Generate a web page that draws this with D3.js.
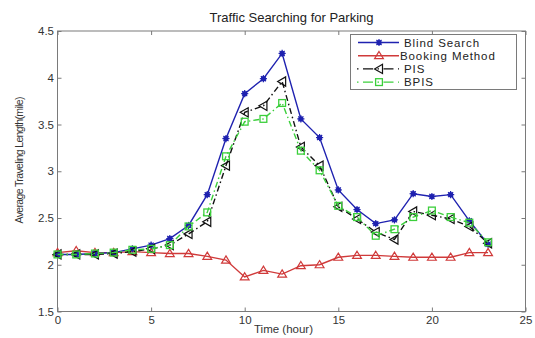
<!DOCTYPE html>
<html>
<head>
<meta charset="utf-8">
<script src="https://cdn.jsdelivr.net/npm/d3@7"></script>
<style>
  html, body { margin: 0; padding: 0; background: #fff; }
  svg { display: block; font-family: "Liberation Sans", Arial, sans-serif; }
</style>
</head>
<body>
<svg id="chart" width="535" height="338"></svg>
<script>
// Hour of day
const hours = d3.range(0, 24);

// Average traveling length (mile) per strategy
const blindSearch   = [2.11, 2.11, 2.12, 2.13, 2.17, 2.21, 2.28, 2.42, 2.75, 3.35, 3.83, 3.99, 4.26, 3.56, 3.36, 2.80, 2.59, 2.44, 2.48, 2.76, 2.73, 2.75, 2.47, 2.22];
const bookingMethod = [2.13, 2.15, 2.13, 2.13, 2.14, 2.13, 2.12, 2.12, 2.09, 2.05, 1.87, 1.94, 1.90, 1.99, 2.00, 2.08, 2.10, 2.10, 2.09, 2.08, 2.08, 2.08, 2.13, 2.13];
const pis           = [2.11, 2.11, 2.11, 2.12, 2.14, 2.17, 2.21, 2.33, 2.46, 3.06, 3.63, 3.70, 3.96, 3.26, 3.06, 2.62, 2.49, 2.35, 2.27, 2.57, 2.53, 2.49, 2.41, 2.23];
const bpis          = [2.11, 2.11, 2.12, 2.13, 2.16, 2.17, 2.21, 2.41, 2.56, 3.16, 3.53, 3.56, 3.73, 3.22, 3.01, 2.63, 2.51, 2.31, 2.38, 2.51, 2.58, 2.51, 2.45, 2.24];

const xTicks = [0, 5, 10, 15, 20, 25];
const yTicks = [1.5, 2, 2.5, 3, 3.5, 4, 4.5];

const title = "Traffic Searching for Parking";
const xLabel = "Time (hour)";
const yLabel = "Average Traveling Length(mile)";

const series = [
  { name: "Blind Search",   values: blindSearch,   color: "#1f22b0", dash: null,        marker: "star" },
  { name: "Booking Method", values: bookingMethod, color: "#d03a3a", dash: null,        marker: "tri" },
  { name: "PIS",            values: pis,           color: "#111111", dash: "6,3,1.5,3", marker: "ltri" },
  { name: "BPIS",           values: bpis,          color: "#3ccf3c", dash: "6,3,1.5,3", marker: "square" }
];

const svg = d3.select("#chart");
const plotLeft = 57.5, plotRight = 525.5, plotTop = 31, plotBottom = 311.5;

const x = d3.scaleLinear().domain([0, 25]).range([plotLeft, plotRight]);
const y = d3.scaleLinear().domain([1.5, 4.5]).range([plotBottom, plotTop]);

const axisColor = "#7a7a7a";
const textColor = "#333";

// Plot frame
svg.append("rect")
  .attr("x", plotLeft).attr("y", plotTop)
  .attr("width", plotRight - plotLeft).attr("height", plotBottom - plotTop)
  .attr("fill", "none").attr("stroke", axisColor).attr("stroke-width", 1);

// Axes with inward ticks
const xAxis = svg.append("g").attr("transform", `translate(0,${plotBottom})`)
  .call(d3.axisBottom(x).tickValues(xTicks).tickFormat(d3.format("d")).tickSizeInner(-4).tickSizeOuter(0).tickPadding(4));
const xAxisTop = svg.append("g").attr("transform", `translate(0,${plotTop})`)
  .call(d3.axisTop(x).tickValues(xTicks).tickFormat("").tickSizeInner(-4).tickSizeOuter(0));
const yAxis = svg.append("g").attr("transform", `translate(${plotLeft},0)`)
  .call(d3.axisLeft(y).tickValues(yTicks).tickFormat(d => d3.format("")(d)).tickSizeInner(-4).tickSizeOuter(0).tickPadding(3.5));
const yAxisRight = svg.append("g").attr("transform", `translate(${plotRight},0)`)
  .call(d3.axisRight(y).tickValues(yTicks).tickFormat("").tickSizeInner(-4).tickSizeOuter(0));

[xAxis, xAxisTop, yAxis, yAxisRight].forEach(g => {
  g.select(".domain").remove();
  g.selectAll("line").attr("stroke", axisColor);
  g.selectAll("text").attr("fill", textColor).style("font-size", "11.5px")
    .style("font-family", "'Liberation Sans', Arial, sans-serif");
});

// Titles
svg.append("text").attr("x", (plotLeft + plotRight) / 2).attr("y", 22)
  .attr("text-anchor", "middle").attr("fill", "#222").style("font-size", "13px").text(title);
svg.append("text").attr("x", (plotLeft + plotRight) / 2 - 8).attr("y", 333)
  .attr("text-anchor", "middle").attr("fill", textColor).style("font-size", "11.5px").text(xLabel);
svg.append("text")
  .attr("transform", `translate(23,160) rotate(-90)`)
  .attr("text-anchor", "middle").attr("fill", textColor).style("font-size", "10.5px")
  .attr("textLength", 127).attr("lengthAdjust", "spacing").text(yLabel);

// Marker drawing
function drawMarker(g, type, color) {
  if (type === "star") {
    g.append("circle").attr("r", 2.6).attr("fill", color);
    [0, 45, 90, 135].forEach(a => {
      const r = 3.6, t = a * Math.PI / 180;
      g.append("line")
        .attr("x1", -r * Math.cos(t)).attr("y1", -r * Math.sin(t))
        .attr("x2", r * Math.cos(t)).attr("y2", r * Math.sin(t))
        .attr("stroke", color).attr("stroke-width", 1.2);
    });
  } else if (type === "tri") {
    g.append("path").attr("d", "M0,-4.2L4.4,3L-4.4,3Z")
      .attr("fill", "none").attr("stroke", color).attr("stroke-width", 1.2);
  } else if (type === "ltri") {
    g.append("path").attr("d", "M-4.5,0L3.5,-4.6L3.5,4.6Z")
      .attr("fill", "none").attr("stroke", color).attr("stroke-width", 1.2);
  } else if (type === "square") {
    g.append("rect").attr("x", -3.4).attr("y", -3.4).attr("width", 6.8).attr("height", 6.8)
      .attr("fill", "none").attr("stroke", color).attr("stroke-width", 1.3);
  }
}

const line = d3.line().x((d, i) => x(hours[i])).y(d => y(d));

// Draw series (booking first so the search curves sit on top near the start)
const order = [1, 0, 2, 3];
order.forEach(k => {
  const s = series[k];
  const g = svg.append("g");
  g.append("path").datum(s.values)
    .attr("d", line).attr("fill", "none")
    .attr("stroke", s.color).attr("stroke-width", 1.4)
    .attr("stroke-dasharray", s.dash);
  s.values.forEach((v, i) => {
    const m = g.append("g").attr("transform", `translate(${x(hours[i])},${y(v)})`);
    drawMarker(m, s.marker, s.color);
  });
});

// Legend
const lg = svg.append("g");
lg.append("rect").attr("x", 350.5).attr("y", 34.5).attr("width", 166).attr("height", 55)
  .attr("fill", "#fff").attr("stroke", axisColor).attr("stroke-width", 1);
const legendX = [404, 400, 404, 404];
series.forEach((s, i) => {
  const cy = 42.5 + i * 13.2;
  if (s.dash) {
    lg.append("line").attr("x1", 357).attr("x2", 399).attr("y1", cy).attr("y2", cy)
      .attr("stroke", s.color).attr("stroke-width", 1.4).attr("stroke-dasharray", "1.5,4.5,10,4.5");
  } else {
    lg.append("line").attr("x1", 358).attr("x2", 399).attr("y1", cy).attr("y2", cy)
      .attr("stroke", s.color).attr("stroke-width", 1.4);
  }
  drawMarker(lg.append("g").attr("transform", `translate(379,${cy})`), s.marker, s.color);
  lg.append("text").attr("x", legendX[i]).attr("y", cy + 4.2)
    .attr("fill", "#222").style("font-size", "11.5px").style("letter-spacing", "0.9px").text(s.name);
});
</script>
</body>
</html>
